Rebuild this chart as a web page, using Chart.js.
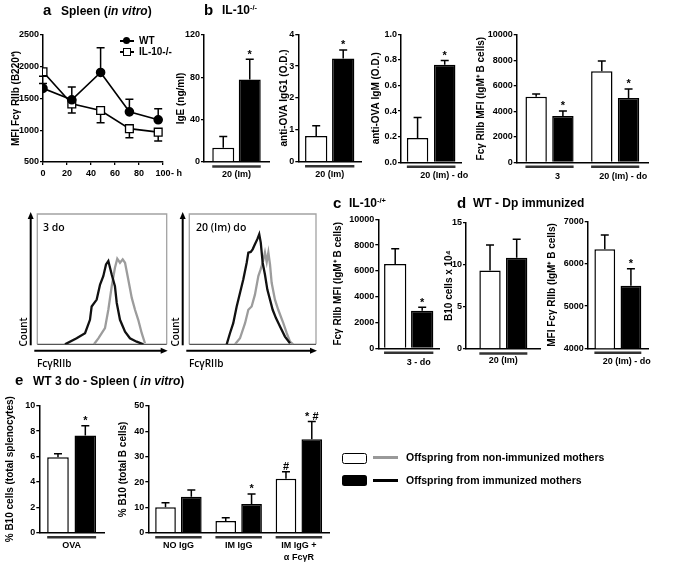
<!DOCTYPE html>
<html><head><meta charset="utf-8">
<script src="https://cdn.jsdelivr.net/npm/chart.js@4.4.1/dist/chart.umd.min.js"></script>
<style>
html,body{margin:0;padding:0;background:#fff;}
#wrap{position:relative;width:685px;height:562px;overflow:hidden;background:#fff;font-family:"Liberation Sans",Arial,sans-serif;color:#000;}
#wrap canvas{position:absolute;left:0;top:0;}
.t{position:absolute;white-space:nowrap;font-weight:bold;color:#000;}
.t sup{font-size:0.62em;vertical-align:0;position:relative;top:-0.55em;}
.sh{position:absolute;box-sizing:border-box;}
</style></head><body><div id="wrap"></div>
<script>
// ---------------- DATA ----------------
// Panel a: Spleen (in vitro)
const hoursA = [0, 24, 48, 72, 96];
const wtMFI = [1660, 1480, 1910, 1290, 1165];
const wtSEM = [75, 200, 390, 200, 175];
const il10MFI = [1920, 1415, 1310, 1025, 970];
const il10SEM = [70, 145, 190, 145, 140];
const yTicksA = [500, 1000, 1500, 2000, 2500];
const xTicksA = [0, 20, 40, 60, 80, 100];

// Panel b (IL-10-/-)
const groupB1 = ['20 (Im)'];
const igeNon = [13.5], igeImm = [78], igeNonErr = [10.5], igeImmErr = [19];
const yTicksB1 = [0, 40, 80, 120];
const groupB2 = ['20 (Im)'];
const igg1Non = [0.81], igg1Imm = [3.24], igg1NonErr = [0.32], igg1ImmErr = [0.27];
const yTicksB2 = [0, 1, 2, 3, 4];
const groupB3 = ['20 (Im) - do'];
const igmNon = [0.19], igmImm = [0.762], igmNonErr = [0.16], igmImmErr = [0.033];
const yTicksB3 = [0, 0.2, 0.4, 0.6, 0.8, 1.0];
const groupB4 = ['3', '20 (Im) - do'];
const fcrB4Non = [5150, 7150], fcrB4Imm = [3640, 5050], fcrB4NonErr = [215, 810], fcrB4ImmErr = [390, 710];
const yTicksB4 = [0, 2000, 4000, 6000, 8000, 10000];

// Panel c (IL-10-/+)
const groupC = ['3 - do'];
const fcrCNon = [6540], fcrCImm = [2920], fcrCNonErr = [1180], fcrCImmErr = [260];
const yTicksC = [0, 2000, 4000, 6000, 8000, 10000];

// Panel d (WT - Dp immunized)
const groupD1 = ['20 (Im)'];
const b10DNon = [9.3], b10DImm = [10.8], b10DNonErr = [3.0], b10DImmErr = [2.2];
const yTicksD1 = [0, 5, 10, 15];
const groupD2 = ['20 (Im) - do'];
const fcrDNon = [6350], fcrDImm = [5480], fcrDNonErr = [335], fcrDImmErr = [405];
const yTicksD2 = [4000, 5000, 6000, 7000];

// Panel e (WT 3 do - Spleen in vitro)
const groupE1 = ['OVA'];
const b10E1Non = [5.95], b10E1Imm = [7.65], b10E1NonErr = [0.27], b10E1ImmErr = [0.78];
const yTicksE1 = [0, 2, 4, 6, 8, 10];
const groupE2 = ['NO IgG', 'IM IgG', ['IM IgG +', 'α FcγR']];
const b10E2Non = [10.0, 4.6, 21.3], b10E2Imm = [14.2, 11.3, 36.9];
const b10E2NonErr = [1.8, 1.3, 2.8], b10E2ImmErr = [2.7, 4.0, 7.0];
const marksE2Non = ['', '', '#'], marksE2Imm = ['', '*', '* #'];
const yTicksE2 = [0, 10, 20, 30, 40, 50];

// Flow histograms (relative FcγRIIb position 0-100, relative count 0-100)
const flow3doBlackX = [21.4, 30.4, 36.9, 40.7, 42, 45.9, 48.5, 51, 53.1, 54.9, 56.2, 57.5, 60, 61.4, 63.9, 67.8, 71.6, 76.8, 82];
const flow3doBlackY = [0, 4.6, 8.5, 18.8, 29, 34.3, 45.9, 52.3, 61.3, 63.9, 58.8, 53.6, 44.5, 31.7, 18.8, 9.7, 4.6, 2, 0];
const flow3doGrayX = [43.8, 47.2, 49.8, 52.3, 54.9, 57.5, 60, 61.8, 63.9, 66, 67.8, 70.3, 73, 75.5, 78, 80.7, 83.2];
const flow3doGrayY = [0, 4.6, 8.5, 12.4, 26.5, 44.5, 58.8, 65.7, 62.6, 65.2, 62.6, 49.7, 35.6, 26.5, 18.8, 8.5, 0.8];
const flow20BlackX = [29.5, 32.1, 34.7, 37.4, 40, 42.6, 45.3, 46.6, 48.5, 50, 51.8, 53.7, 55.2, 56.4, 57.9, 59.7, 61.6, 63.7, 65.8, 68.4, 71.6, 75.5, 79.5];
const flow20BlackY = [0, 8.5, 16.2, 29, 39.4, 49.7, 62.6, 70.4, 70.9, 72.9, 76.8, 80.7, 84.5, 78.1, 62.6, 53.6, 42, 34.3, 26.5, 20.1, 13.6, 5.9, 0.8];
const flow20GrayX = [36.1, 40, 44, 46.6, 49.2, 51.8, 54.5, 56.3, 57.9, 59.7, 61.1, 62.4, 63.7, 65, 67.6, 70.2, 74.2, 76.9, 79.5, 82];
const flow20GrayY = [0, 4.6, 16.2, 26.5, 29, 38.1, 52.3, 57.5, 62.6, 70.4, 63.1, 70.4, 61.3, 47.2, 34.3, 26.5, 16.2, 8.5, 2, 0];

// ---------------- SETUP ----------------
const W = 685, H = 562;
const wrap = document.getElementById('wrap');
Chart.defaults.font.family = '"Liberation Sans", Arial, sans-serif';
Chart.defaults.font.size = 9;
Chart.defaults.font.weight = 'bold';
Chart.defaults.color = '#000';
Chart.defaults.animation = false;
Chart.defaults.plugins.legend.display = false;
Chart.defaults.plugins.tooltip.enabled = false;

function makeCanvas() {
  const c = document.createElement('canvas');
  c.width = W; c.height = H; c.style.width = W + 'px'; c.style.height = H + 'px';
  wrap.appendChild(c); return c;
}
function xh(b) { return b.xH || 24; }
function layoutFor(b) {
  return { padding: { left: b.L - b.yW, top: b.T, right: W - b.R, bottom: H - b.B - xh(b) } };
}
function yAxis(b, ticks, title, fmt, fs) {
  return {
    type: 'linear', min: ticks[0], max: ticks[ticks.length - 1],
    afterBuildTicks: s => { s.ticks = ticks.map(v => ({ value: v })); },
    afterFit: s => { s.width = b.yW; },
    grid: { drawOnChartArea: false, drawTicks: true, tickLength: 3, color: '#000', lineWidth: 1.3 },
    border: { display: true, color: '#000', width: 1.5 },
    ticks: { padding: 1, font: { size: fs || 9, weight: 'bold' }, color: '#000', callback: fmt || (v => String(v)) },
    title: { display: true, text: title, padding: 0, font: { size: 10, weight: 'bold' }, color: '#000' }
  };
}
function xCat(b, pad, off) {
  return {
    type: 'category', offset: true, afterFit: s => { s.height = xh(b); },
    grid: { display: false, drawTicks: false },
    border: { display: true, color: '#000', width: 1.5 },
    ticks: { padding: pad, labelOffset: off || 0, font: { size: 9, weight: 'bold', lineHeight: 1.3 }, color: '#000', maxRotation: 0, minRotation: 0, autoSkip: false }
  };
}

const errPlugin = {
  id: 'errs',
  beforeDatasetsDraw(chart) {
    const ctx = chart.ctx, ys = chart.scales.y;
    chart.data.datasets.forEach((ds, i) => {
      if (!ds.errors) return;
      const meta = chart.getDatasetMeta(i);
      const dir = ds.errDir || 1;
      meta.data.forEach((el, j) => {
        const raw = ds.data[j];
        const val = (raw !== null && typeof raw === 'object') ? raw.y : raw;
        const e = ds.errors[j];
        if (e == null || val == null) return;
        const y0 = ys.getPixelForValue(val), y1 = ys.getPixelForValue(val + dir * e);
        const x = el.x, cap = 4;
        ctx.save();
        ctx.strokeStyle = '#000'; ctx.lineWidth = 1.5;
        ctx.beginPath(); ctx.moveTo(x, y0); ctx.lineTo(x, y1);
        ctx.moveTo(x - cap, y1); ctx.lineTo(x + cap, y1); ctx.stroke();
        if (ds.marks && ds.marks[j]) {
          ctx.fillStyle = '#000'; ctx.font = 'bold 11px "Liberation Sans", Arial, sans-serif';
          ctx.textAlign = 'center'; ctx.textBaseline = 'alphabetic';
          ctx.fillText(ds.marks[j], x, y1 - 1.5);
        }
        ctx.restore();
      });
    });
  }
};
const groupPlugin = {
  id: 'groups',
  afterDraw(chart) {
    const ctx = chart.ctx, n = chart.data.labels.length, y = chart.chartArea.bottom + 4.5;
    const metas = chart.data.datasets.map((d, i) => chart.getDatasetMeta(i));
    for (let j = 0; j < n; j++) {
      let l = Infinity, r = -Infinity;
      metas.forEach(m => { const el = m.data[j]; if (!el) return; l = Math.min(l, el.x - el.width / 2); r = Math.max(r, el.x + el.width / 2); });
      ctx.save(); ctx.strokeStyle = '#333'; ctx.lineWidth = 2.5;
      ctx.beginPath(); ctx.moveTo(l, y); ctx.lineTo(r, y); ctx.stroke(); ctx.restore();
    }
  }
};

function barChart(b, labels, non, imm, nonErr, immErr, nonMarks, immMarks, yTicks, yTitle, cp, bp, xPad, xOff, fmt) {
  new Chart(makeCanvas(), {
    type: 'bar',
    data: {
      labels: labels,
      datasets: [
        { label: 'Offspring from non-immunized mothers', data: non, backgroundColor: '#fff', borderColor: '#000', borderWidth: 1.5, errors: nonErr, marks: nonMarks, categoryPercentage: cp, barPercentage: bp },
        { label: 'Offspring from immunized mothers', data: imm, backgroundColor: '#000', borderColor: '#000', borderWidth: 1.5, errors: immErr, marks: immMarks, categoryPercentage: cp, barPercentage: bp }
      ]
    },
    options: { responsive: false, events: [], layout: layoutFor(b), scales: { x: xCat(b, xPad, xOff), y: yAxis(b, yTicks, yTitle, fmt) } },
    plugins: [errPlugin, groupPlugin]
  });
}

// ---------------- PANEL a ----------------
const boxA = { L: 43, T: 35, R: 163, B: 162, yW: 33 };
new Chart(makeCanvas(), {
  type: 'line',
  data: {
    datasets: [
      { label: 'WT', data: hoursA.map((h, i) => ({ x: h, y: wtMFI[i] })), borderColor: '#000', borderWidth: 1.6, tension: 0,
        pointStyle: 'circle', pointRadius: 4, pointBackgroundColor: '#000', pointBorderColor: '#000', errors: wtSEM, errDir: 1 },
      { label: 'IL-10-/-', data: hoursA.map((h, i) => ({ x: h, y: il10MFI[i] })), borderColor: '#000', borderWidth: 1.6, tension: 0,
        pointStyle: 'rect', pointRadius: 5.5, pointBackgroundColor: '#fff', pointBorderColor: '#000', pointBorderWidth: 1.3, errors: il10SEM, errDir: -1 }
    ]
  },
  options: {
    responsive: false, events: [], layout: layoutFor(boxA),
    scales: {
      x: { type: 'linear', min: 0, max: 100,
        afterBuildTicks: s => { s.ticks = xTicksA.map(v => ({ value: v })); },
        afterFit: s => { s.height = 24; },
        grid: { drawOnChartArea: false, drawTicks: true, tickLength: 3, color: '#000', lineWidth: 1.3 },
        border: { display: true, color: '#000', width: 1.5 },
        ticks: { padding: 3.5, font: { size: 9, weight: 'bold' }, color: '#000', callback: v => String(v) } },
      y: yAxis(boxA, yTicksA, 'MFI Fcγ RIIb (B220⁺)', null, 9)
    }
  },
  plugins: [errPlugin]
});

// ---------------- PANEL b ----------------
barChart({ L: 204, T: 35, R: 269, B: 162, yW: 29 }, groupB1, igeNon, igeImm, igeNonErr, igeImmErr, [''], ['*'],
  yTicksB1, 'IgE (ng/ml)', 0.815, 0.83, 7, 0);
barChart({ L: 298.3, T: 34.3, R: 361.1, B: 161.7, yW: 20.3 }, groupB2, igg1Non, igg1Imm, igg1NonErr, igg1ImmErr, [''], ['*'],
  yTicksB2, 'anti-OVA IgG1 (O.D.)', 0.86, 0.826, 7, 0);
barChart({ L: 401, T: 34.3, R: 461.3, B: 162.3, yW: 31 }, groupB3, igmNon, igmImm, igmNonErr, igmImmErr, [''], ['*'],
  yTicksB3, 'anti-OVA IgM (O.D.)', 0.90, 0.79, 7, 13, v => v.toFixed(1));
barChart({ L: 516.7, T: 35, R: 648, B: 162.3, yW: 41.7 }, groupB4, fcrB4Non, fcrB4Imm, fcrB4NonErr, fcrB4ImmErr, ['', ''], ['*', '*'],
  yTicksB4, 'Fcγ RIIb MFI (IgM⁺ B cells)', 0.815, 0.80, 8, 8);

// ---------------- PANEL c ----------------
barChart({ L: 378.3, T: 219.3, R: 439.1, B: 348.3, yW: 46.3 }, groupC, fcrCNon, fcrCImm, fcrCNonErr, fcrCImmErr, [''], ['*'],
  yTicksC, 'Fcγ RIIb MFI (IgM⁺ B cells)', 0.888, 0.826, 8, 10);

// ---------------- PANEL d ----------------
barChart({ L: 466, T: 222.3, R: 540.7, B: 349, yW: 22.5 }, groupD1, b10DNon, b10DImm, b10DNonErr, b10DImmErr, [''], [''],
  yTicksD1, 'B10 cells x 10⁴', 0.714, 0.80, 6, 0);
barChart({ L: 587.7, T: 221.7, R: 648, B: 348.3, yW: 41.2 }, groupD2, fcrDNon, fcrDImm, fcrDNonErr, fcrDImmErr, [''], ['*'],
  yTicksD2, 'MFI Fcγ RIIb (IgM⁺ B cells)', 0.867, 0.795, 7, 9);

// ---------------- PANEL e ----------------
barChart({ L: 39.3, T: 405.7, R: 104, B: 532.7, yW: 35.3, xH: 29 }, groupE1, b10E1Non, b10E1Imm, b10E1NonErr, b10E1ImmErr, [''], ['*'],
  yTicksE1, '% B10 cells (total splenocytes)', 0.845, 0.79, 7, 0);
barChart({ L: 148.3, T: 406, R: 329, B: 532.7, yW: 31.3, xH: 29 }, groupE2, b10E2Non, b10E2Imm, b10E2NonErr, b10E2ImmErr, marksE2Non, marksE2Imm,
  yTicksE2, '% B10 (total B cells)', 0.857, 0.80, 7, 0);

// ---------------- FLOW HISTOGRAMS ----------------
const framePlugin = {
  id: 'frame',
  beforeDatasetsDraw(chart) {
    const { left, top, right, bottom } = chart.chartArea, ctx = chart.ctx;
    ctx.save();
    ctx.strokeStyle = '#a3a3a3'; ctx.lineWidth = 1.3;
    ctx.beginPath(); ctx.moveTo(left, bottom); ctx.lineTo(left, top); ctx.lineTo(right, top); ctx.lineTo(right, bottom); ctx.stroke();
    ctx.strokeStyle = '#555'; ctx.lineWidth = 1.2;
    ctx.beginPath(); ctx.moveTo(left, bottom); ctx.lineTo(right, bottom); ctx.stroke();
    ctx.strokeStyle = '#000'; ctx.fillStyle = '#000'; ctx.lineWidth = 2;
    const ax = left - 6.6;
    ctx.beginPath(); ctx.moveTo(ax, bottom + 1); ctx.lineTo(ax, top + 4); ctx.stroke();
    ctx.beginPath(); ctx.moveTo(ax, top - 2); ctx.lineTo(ax - 3, top + 5); ctx.lineTo(ax + 3, top + 5); ctx.closePath(); ctx.fill();
    const ay = bottom + 6.5;
    ctx.beginPath(); ctx.moveTo(left - 3, ay); ctx.lineTo(right - 4, ay); ctx.stroke();
    ctx.beginPath(); ctx.moveTo(right + 1, ay); ctx.lineTo(right - 6, ay - 3); ctx.lineTo(right - 6, ay + 3); ctx.closePath(); ctx.fill();
    ctx.restore();
  }
};
function histChart(b, bx, by, gx, gy) {
  new Chart(makeCanvas(), {
    type: 'line',
    data: { datasets: [
      { data: bx.map((x, i) => ({ x: x, y: by[i] })), borderColor: '#111', borderWidth: 2.3, pointRadius: 0, tension: 0 },
      { data: gx.map((x, i) => ({ x: x, y: gy[i] })), borderColor: '#9c9c9c', borderWidth: 2.3, pointRadius: 0, tension: 0 }
    ] },
    options: { responsive: false, events: [],
      layout: { padding: { left: b.L, top: b.T, right: W - b.R, bottom: H - b.B } },
      scales: { x: { type: 'linear', display: false, min: 0, max: 100 }, y: { type: 'linear', display: false, min: 0, max: 100 } } },
    plugins: [framePlugin]
  });
}
histChart({ L: 37.3, T: 214, R: 166.7, B: 344.3 }, flow3doBlackX, flow3doBlackY, flow3doGrayX, flow3doGrayY);
histChart({ L: 189.3, T: 214, R: 316, B: 344.3 }, flow20BlackX, flow20BlackY, flow20GrayX, flow20GrayY);

// ---------------- TEXT & LEGENDS ----------------
function T(html, x, base, size, o) {
  o = o || {};
  const d = document.createElement('div'); d.className = 't'; d.innerHTML = html;
  d.style.fontSize = size + 'px'; d.style.lineHeight = size + 'px';
  d.style.left = x + 'px'; d.style.top = (base - 0.846 * size) + 'px';
  if (o.f) d.style.fontFamily = o.f;
  if (o.w) d.style.fontWeight = o.w;
  wrap.appendChild(d); return d;
}
function Rot(html, cx, cy, size, o) {
  const d = T(html, cx, cy, size, o);
  d.style.left = cx + 'px'; d.style.top = cy + 'px';
  d.style.transform = 'translate(-50%,-50%) rotate(-90deg)';
}
function S(x, y, w, h, css) {
  const d = document.createElement('div'); d.className = 'sh';
  d.style.left = x + 'px'; d.style.top = y + 'px'; d.style.width = w + 'px'; d.style.height = h + 'px';
  d.style.cssText += css; wrap.appendChild(d);
}

T('a', 43, 15, 15); T('Spleen (<i>in vitro</i>)', 61, 15, 12);
T('b', 204, 15, 15); T('IL-10<sup>-/-</sup>', 222, 14, 12);
T('- h', 171, 177, 9);
T('c', 333, 208, 15); T('IL-10<sup>-/+</sup>', 349, 207, 12);
T('d', 457, 208, 15); T('WT - Dp immunized', 473, 207, 12);
T('e', 15, 385, 15); T('WT 3 do - Spleen ( <i>in vitro</i>)', 33, 385, 12);

// panel a legend
S(119.5, 40, 14.5, 1.6, 'background:#000;');
S(123.2, 37.2, 7, 7, 'background:#000;border-radius:50%;');
T('WT', 139, 44.5, 10);
S(119.5, 51, 14.5, 1.6, 'background:#000;');
S(123, 48, 7.5, 7.5, 'background:#fff;border:1.3px solid #000;');
T('IL-10-/-', 139, 55.5, 10);

// flow labels
const OS = '"Open Sans", "Liberation Sans", sans-serif';
T('3 do', 43, 231, 10.5, { f: OS, w: 600 });
T('20 (Im) do', 196, 231, 10.5, { f: OS, w: 600 });
Rot('Count', 22.7, 332, 10, { f: OS, w: 600 });
Rot('Count', 175, 332, 10, { f: OS, w: 600 });
T('FcγRIIb', 37, 366, 10, { f: OS, w: 600 });
T('FcγRIIb', 189, 366, 10, { f: OS, w: 600 });

// bottom legend
S(342, 452.5, 25, 11, 'background:#fff;border:1.5px solid #000;border-radius:2.5px;');
S(373, 456, 25, 3, 'background:#999;');
T('Offspring from non-immunized mothers', 406, 461, 10.5);
S(342, 474.5, 25, 11, 'background:#000;border-radius:2.5px;');
S(373, 478.5, 25, 3, 'background:#000;');
T('Offspring from immunized mothers', 406, 484, 10.5);
</script></body></html>
